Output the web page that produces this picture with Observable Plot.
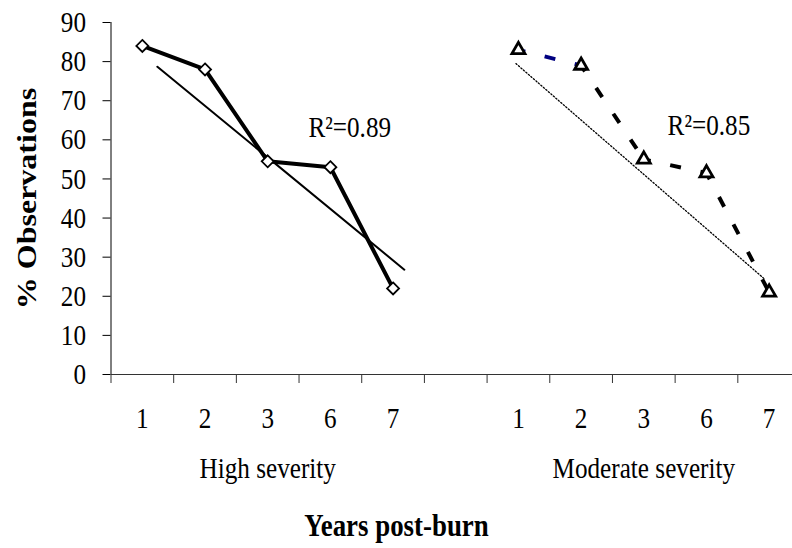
<!DOCTYPE html>
<html>
<head>
<meta charset="utf-8">
<script src="https://cdn.jsdelivr.net/npm/d3@7"></script>
<script src="https://cdn.jsdelivr.net/npm/@observablehq/plot@0.6"></script>
<style>
  body { margin: 0; background: #fff; }
  #chart svg { display: block; }
</style>
</head>
<body>
<div id="chart"></div>
<script>
// Years since the burn, shared by both severity groups
const years = ["1", "2", "3", "6", "7"];
// % of observations per year
const highSeverity = [84, 78, 54.5, 53, 22];
const moderateSeverity = [83, 79, 55, 51.5, 21];
const groups = ["High severity", "Moderate severity"];
const rSquared = [0.89, 0.85];
const yTicks = [0, 10, 20, 30, 40, 50, 60, 70, 80, 90];
// fitted trend lines, as [slot, % observations] end points
const highTrend = [[0.74, 78.7], [4.68, 26.8]];
const moderateTrend = [[6.46, 79.5], [10.42, 24.5]];

// Each group takes five category slots, with one empty slot between groups.
const slotOf = (g, i) => g * 6 + i + 0.5;
const high = years.map((year, i) => ({slot: slotOf(0, i), year, value: highSeverity[i]}));
const moderate = years.map((year, i) => ({slot: slotOf(1, i), year, value: moderateSeverity[i]}));
const labels = [...high, ...moderate];
const groupLabels = groups.map((name, g) => ({slot: slotOf(g, 2), name}));
const boundaries = d3.range(0, 12);
// the dashed series restarts its dash pattern on every segment
const moderateSegments = d3.pairs(moderate).map(([a, b], i) => ({a, b, i}));

const serif = "'Liberation Serif', 'Times New Roman', serif";

const chart = Plot.plot({
  width: 792,
  height: 548,
  marginLeft: 110.5,
  marginTop: 22,
  marginBottom: 174,
  marginRight: 0,
  style: {fontFamily: serif, background: "#fff", color: "#000", overflow: "visible"},
  x: {type: "linear", domain: [0, 11], range: [110.5, 800]},
  y: {domain: [0, 90]},
  marks: [
    // axes
    Plot.axisY({ticks: yTicks, tickSize: 8, tickPadding: 17, fontSize: 30, label: null, stroke: "#000"}),
    Plot.axisX({ticks: boundaries, tickSize: 9, tickFormat: () => "", label: null, stroke: "#333"}),
    Plot.ruleX([0], {y1: 0, y2: 90, stroke: "#000"}),
    Plot.ruleY([0], {x1: 0, x2: 11.2, stroke: "#333"}),

    // category and group labels
    Plot.text(labels, {x: "slot", text: "year", frameAnchor: "bottom", dy: 53, fontSize: 30}),
    Plot.text(groupLabels, {x: "slot", text: "name", frameAnchor: "bottom", dy: 103, fontSize: 30}),
    Plot.text(["Years post-burn"], {frameAnchor: "bottom-left", dx: 285.5, dy: 161, textAnchor: "middle", fontSize: 32, fontWeight: "bold"}),
    Plot.text(["% Observations"], {frameAnchor: "left", dx: -84, rotate: -90, textAnchor: "middle", fontSize: 32, fontWeight: "bold"}),

    // trend lines
    Plot.line(highTrend, {x: d => d[0], y: d => d[1], stroke: "#000", strokeWidth: 2}),
    Plot.line(moderateTrend, {x: d => d[0], y: d => d[1], stroke: "#000", strokeWidth: 1.3, strokeDasharray: "1.3,2"}),

    // observed series
    Plot.line(high, {x: "slot", y: "value", stroke: "#000", strokeWidth: 4, strokeLinejoin: "round"}),
    Plot.link(moderateSegments, {
      x1: d => d.a.slot, y1: d => d.a.value, x2: d => d.b.slot, y2: d => d.b.value,
      stroke: d => (d.i === 0 ? "#000080" : "#000"), strokeWidth: 4,
      strokeDasharray: "11,20", strokeDashoffset: 4
    }),
    Plot.dot(high, {x: "slot", y: "value", symbol: "diamond2", r: 5.4, fill: "#fff", stroke: "#000", strokeWidth: 1.8}),
    Plot.dot(moderate, {x: "slot", y: "value", symbol: "triangle2", r: 6.2, fill: "#fff", stroke: "#000", strokeWidth: 2.8}),

    // goodness of fit
    Plot.text([0], {x: 3.15, y: 63.2, text: () => `R²=${rSquared[0]}`, textAnchor: "start", fontSize: 30}),
    Plot.text([0], {x: 8.88, y: 63.7, text: () => `R²=${rSquared[1]}`, textAnchor: "start", fontSize: 30})
  ]
});

// Narrow the type horizontally about each label's anchor point.
const squeeze = 0.84;
chart.querySelectorAll("text").forEach((t) => {
  const tr = t.getAttribute("transform");
  const m = tr && tr.match(/^translate\(([^,\s]+)[,\s]+([^)]+)\)(.*)$/);
  if (m) {
    t.setAttribute("transform", `translate(${m[1]},${m[2]}) scale(${squeeze},1)${m[3]}`);
  } else {
    const x = +t.getAttribute("x") || 0;
    const y = +t.getAttribute("y") || 0;
    t.setAttribute("transform", `translate(${x},${y}) scale(${squeeze},1) translate(${-x},${-y})`);
  }
});

document.getElementById("chart").append(chart);
</script>
</body>
</html>
